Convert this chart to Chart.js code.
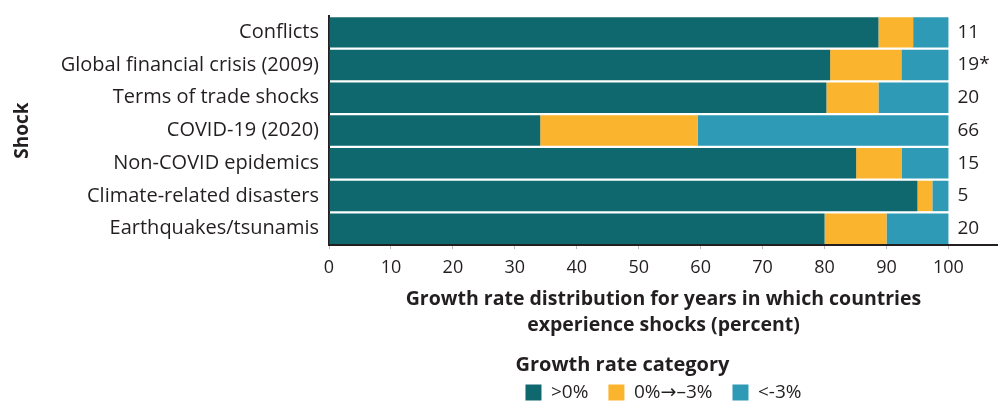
<!DOCTYPE html>
<html>
<head>
<meta charset="utf-8">
<script src="https://cdn.jsdelivr.net/npm/chart.js@4"></script>
<style>
  html, body { margin: 0; padding: 0; background: #fff; }
  #wrap { width: 998px; height: 402px; }
</style>
</head>
<body>
<div id="wrap"><canvas id="shockCanvas"></canvas></div>
<script>
const shocks = [
  "Conflicts",
  "Global financial crisis (2009)",
  "Terms of trade shocks",
  "COVID-19 (2020)",
  "Non-COVID epidemics",
  "Climate-related disasters",
  "Earthquakes/tsunamis",
];
const counts = ["11", "19*", "20", "66", "15", "5", "20"];

// percent of shock years in each growth category
const positive = [88.7, 80.9, 80.3, 34.1, 85.1, 95.0, 80.0];
const mild = [5.6, 11.5, 8.4, 25.4, 7.4, 2.4, 10.0];
const severe = [5.7, 7.6, 11.3, 40.5, 7.5, 2.6, 10.0];

const textColor = "#231f20";
const fontFamily = "'Open Sans', 'DejaVu Sans', sans-serif";

// the sample sizes to the right of each bar
const countLabels = {
  id: "countLabels",
  afterDatasetsDraw(chart) {
    const ctx = chart.ctx;
    const x = chart.scales.x.getPixelForValue(100) + 9;
    ctx.save();
    ctx.font = "19px " + fontFamily;
    ctx.fillStyle = textColor;
    ctx.textAlign = "left";
    ctx.textBaseline = "middle";
    counts.forEach((c, i) => {
      ctx.fillText(c, x, chart.scales.y.getPixelForValue(i));
    });
    ctx.restore();
  }
};

const shockChart = new Chart(document.getElementById("shockCanvas"), {
  type: "bar",
  data: {
    labels: shocks,
    datasets: [
      { label: ">0%", data: positive, backgroundColor: "#10686f" },
      { label: "0%\u2192\u20133%", data: mild, backgroundColor: "#fbb42d" },
      { label: "<-3%", data: severe, backgroundColor: "#2e9ab6" },
    ]
  },
  options: {
    indexAxis: "y",
    responsive: true,
    maintainAspectRatio: false,
    animation: false,
    datasets: {
      bar: { barPercentage: 0.93, categoryPercentage: 1, borderWidth: 0 }
    },
    layout: { padding: { top: 16, left: 0, right: 0, bottom: -10 } },
    scales: {
      x: {
        stacked: true,
        min: 0,
        max: 108,
        afterBuildTicks: s => { s.ticks = s.ticks.filter(t => t.value <= 100); },
        ticks: { stepSize: 10, color: textColor, padding: 8, font: { family: fontFamily, size: 18 } },
        grid: { drawOnChartArea: false, tickLength: 4, color: "#bbbbbb" },
        border: { color: "#231f20", width: 2 },
        title: {
          display: true,
          text: ["Growth rate distribution for years in which countries", "experience shocks (percent)"],
          color: textColor,
          font: { family: fontFamily, size: 19.5, weight: "bold", lineHeight: 1.33 },
          padding: { top: 0, bottom: 7 }
        }
      },
      y: {
        stacked: true,
        afterFit: s => {
          s.width = 329;
          s.paddingTop = 0;
          s.paddingBottom = 0;
        },
        ticks: { color: textColor, padding: 10, font: { family: fontFamily, size: 20 } },
        grid: { display: false, drawTicks: false },
        border: { color: "#231f20", width: 2 },
        title: {
          display: true,
          text: "Shock",
          color: textColor,
          font: { family: fontFamily, size: 19, weight: "bold" },
          padding: { top: 11, bottom: 4 }
        }
      }
    },
    plugins: {
      tooltip: { enabled: false },
      legend: {
        position: "bottom",
        fullSize: false,
        labels: {
          color: textColor,
          boxWidth: 16,
          boxHeight: 16,
          padding: 20,
          font: { family: fontFamily, size: 19 }
        },
        title: {
          display: true,
          text: "Growth rate category",
          position: "start",
          color: textColor,
          font: { family: fontFamily, size: 20, weight: "bold" },
          padding: { top: 10, bottom: -16.5 }
        }
      }
    }
  },
  plugins: [countLabels]
});
</script>
</body>
</html>
